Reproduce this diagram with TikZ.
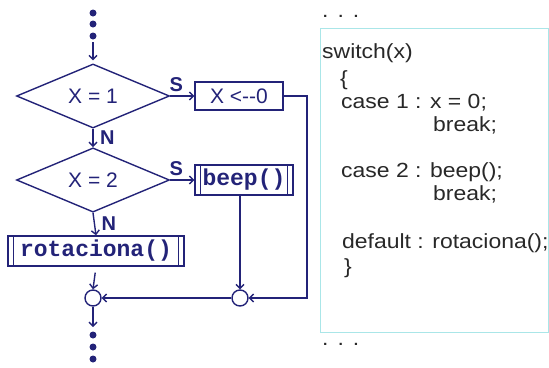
\documentclass[tikz,border=0pt]{standalone}
\usepackage{fontspec}
\setmainfont{Liberation Sans}
\newfontfamily\codesans[FakeStretch=1.12]{Liberation Sans}
\newfontfamily\procfont{Liberation Mono}
\usetikzlibrary{arrows.meta, shapes.geometric, positioning, calc}
\definecolor{navy} {RGB}{35,35,120}
\definecolor{lcyan}{RGB}{170,230,232}
\definecolor{dgray}{RGB}{40,40,40}

\tikzset{
  ln/.style={draw=navy, line width=1.4pt},
  arr/.style={ln, -{Straight Barb[length=4pt,width=8pt]}},
  cond/.style={ln, diamond, minimum width=153pt, minimum height=59pt,
               inner sep=0pt, text=navy, font=\fontsize{21}{21}\selectfont},
  act/.style={ln, rectangle, inner sep=0pt, text=navy},
  subproc/.style={act, font=\procfont\bfseries\fontsize{23}{23}\selectfont},
  joint/.style={ln, circle, minimum size=16pt, inner sep=0pt},
  dot/.style={circle, fill=navy, minimum size=7pt, inner sep=0pt},
  lab/.style={text=navy, font=\bfseries\fontsize{20}{20}\selectfont},
  code/.style={anchor=base west, inner sep=0pt, text=dgray,
               font=\codesans\fontsize{20.5}{20.5}\selectfont},
}

\begin{document}
\begin{tikzpicture}[x=1pt, y=-1pt]
  \useasboundingbox (0,0) rectangle (549,367);
  % flowchart
  \foreach \i/\y in {1/13, 2/24, 3/36} \node[dot] (top\i) at (93,\y) {};
  \coordinate (in) at (93,42);
  \node[cond] (q1) at (93,96) {X = 1};
  \node[cond] (q2) at (93,180) {X = 2};
  \node[act, minimum width=88pt, minimum height=28pt,
        font=\fontsize{21}{21}\selectfont] (set) at (239,96) {X <{-}{-}0};
  \node[subproc, minimum width=98pt, minimum height=30pt] (beep) at (244,180) {beep()};
  \node[subproc, minimum width=176pt, minimum height=30pt] (rota) at (96,251) {rotaciona()};
  \node[joint] (c1) at (93,298) {};
  \node[joint] (c2) at (240,298) {};
  \coordinate (turn) at (307,298);
  \coordinate (out) at (93,327);
  \foreach \i/\y in {1/335, 2/347, 3/359} \node[dot] (bot\i) at (93,\y) {};

  % side bars of the subprocess boxes
  \foreach \n in {beep, rota} {
    \draw[ln] ($(\n.north west)+(6,0)$) -- ($(\n.south west)+(6,0)$);
    \draw[ln] ($(\n.north east)+(-6,0)$) -- ($(\n.south east)+(-6,0)$);
  }

  \draw[arr, shorten >=3pt] (in) -- (q1.north);
  \draw[arr] (q1.east) -- node[lab, above, pos=0.25] {S} (set.west);
  \draw[arr] (q1.south) -- node[lab, right, xshift=3pt] {N} (q2.north);
  \draw[arr] (q2.east) -- node[lab, above, pos=0.25] {S} (beep.west);
  \draw[arr] (q2.south) -- node[lab, right, xshift=3pt] {N} (rota.north);
  \draw[arr, shorten <=6pt] (rota.south) -- (c1.north);
  \draw[arr] (beep.south -| c2.north) -- (c2.north);
  \draw[arr] (set.east) -| (turn) -- (c2.east);
  \draw[arr] (c2.west) -- (c1.east);
  \draw[arr] (c1.south) -- (out);

  % code panel
  \node[draw=lcyan, line width=1pt, minimum width=228pt, minimum height=304pt,
        inner sep=0pt] (panel) at (434,180) {};
  \node[code] (more1) at (322,17) {.\hspace{9pt}.\hspace{9pt}.};
  \node[code] (l1) at (322,58)  {switch(x)};
  \node[code] (l2) at (340,85)  {\{};
  \node[code] (l3) at (341,108) {case 1 : x = 0;};
  \node[code] (l4) at (433,131) {break;};
  \node[code] (l5) at (341,177) {case 2 : beep();};
  \node[code] (l6) at (433,200) {break;};
  \node[code] (l7) at (342,248) {default : rotaciona();};
  \node[code] (l8) at (344,273) {\}};
  \node[code] (more2) at (322,345) {.\hspace{9pt}.\hspace{9pt}.};
\end{tikzpicture}
\end{document}
